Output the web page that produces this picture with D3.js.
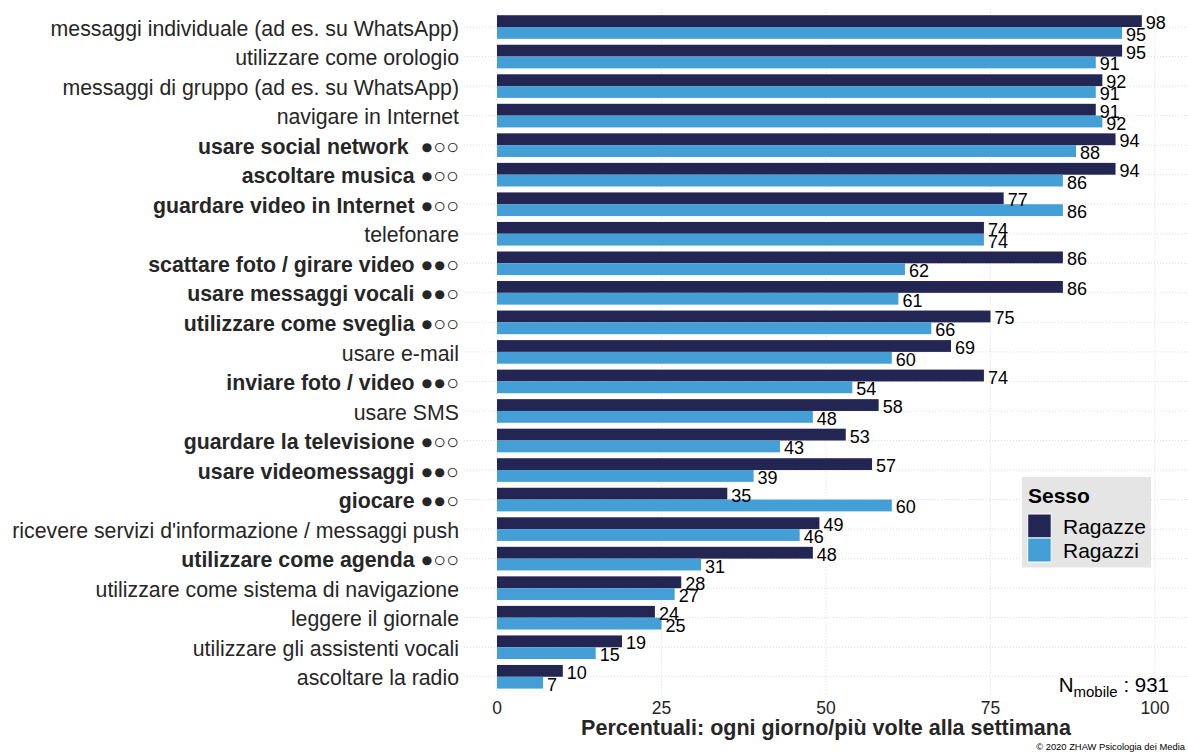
<!DOCTYPE html>
<html>
<head>
<meta charset="utf-8">
<script src="https://cdn.jsdelivr.net/npm/d3@7"></script>
<style>
  html, body { margin: 0; padding: 0; background: #fff; }
  svg { display: block; font-family: "Liberation Sans", Arial, sans-serif; }
</style>
</head>
<body>
<svg id="chart" width="1188" height="752"></svg>
<script>
// Activities with smartphone, top to bottom
const categories = [
  "messaggi individuale (ad es. su WhatsApp)",
  "utilizzare come orologio",
  "messaggi di gruppo (ad es. su WhatsApp)",
  "navigare in Internet",
  "usare social network  ●○○",
  "ascoltare musica ●○○",
  "guardare video in Internet ●○○",
  "telefonare",
  "scattare foto / girare video ●●○",
  "usare messaggi vocali ●●○",
  "utilizzare come sveglia ●○○",
  "usare e-mail",
  "inviare foto / video ●●○",
  "usare SMS",
  "guardare la televisione ●○○",
  "usare videomessaggi ●●○",
  "giocare ●●○",
  "ricevere servizi d'informazione / messaggi push",
  "utilizzare come agenda ●○○",
  "utilizzare come sistema di navigazione",
  "leggere il giornale",
  "utilizzare gli assistenti vocali",
  "ascoltare la radio"
];
// Categories with a significant gender difference (bold labels)
const significant = [false, false, false, false, true, true, true, false, true, true, true,
  false, true, false, true, true, true, false, true, false, false, false, false];
const ragazze = [98, 95, 92, 91, 94, 94, 77, 74, 86, 86, 75, 69, 74, 58, 53, 57, 35, 49, 48, 28, 24, 19, 10];
const ragazzi = [95, 91, 91, 92, 88, 86, 86, 74, 62, 61, 66, 60, 54, 48, 43, 39, 60, 46, 31, 27, 25, 15, 7];
const groups = ["Ragazze", "Ragazzi"];
const xTicks = [0, 25, 50, 75, 100];
const colors = ["#232553", "#459FD7"];

const svg = d3.select("#chart");
const panel = { left: 464.1, right: 1187.9, top: 9.3, bottom: 694.5 };

const x = d3.scaleLinear()
  .domain([-5, 105])
  .range([panel.left, panel.right]);

const y = d3.scaleBand()
  .domain(categories)
  .range([panel.top, panel.bottom])
  .paddingOuter(0.1)
  .paddingInner(0);

const inner = d3.scaleBand()
  .domain(groups)
  .range([y.bandwidth() * 0.1, y.bandwidth() * 0.9]);

const grid = svg.append("g").attr("class", "grid");
// vertical gridlines
grid.selectAll("line.v").data(xTicks).join("line")
  .attr("x1", d => x(d)).attr("x2", d => x(d))
  .attr("y1", panel.top).attr("y2", panel.bottom)
  .attr("stroke", "#d9d9d9").attr("stroke-width", 1).attr("stroke-dasharray", "1,2");
// horizontal gridlines
grid.selectAll("line.h").data(categories).join("line")
  .attr("x1", panel.left).attr("x2", panel.right)
  .attr("y1", d => y(d) + y.bandwidth() / 2).attr("y2", d => y(d) + y.bandwidth() / 2)
  .attr("stroke", "#d9d9d9").attr("stroke-width", 1).attr("stroke-dasharray", "1,2");

// flatten into bar records
const bars = [];
categories.forEach((c, i) => {
  bars.push({ cat: c, group: groups[0], value: ragazze[i], color: colors[0] });
  bars.push({ cat: c, group: groups[1], value: ragazzi[i], color: colors[1] });
});

svg.append("g").selectAll("rect").data(bars).join("rect")
  .attr("x", x(0))
  .attr("y", d => y(d.cat) + inner(d.group))
  .attr("width", d => x(d.value) - x(0))
  .attr("height", inner.bandwidth())
  .attr("fill", d => d.color);

// value labels
svg.append("g").selectAll("text").data(bars).join("text")
  .attr("x", d => x(d.value) + 4)
  .attr("y", d => y(d.cat) + inner(d.group) + inner.bandwidth() / 2 + 1.5)
  .attr("dy", "0.36em")
  .attr("font-size", 18)
  .attr("fill", "#000")
  .text(d => d.value);

// category labels
svg.append("g").selectAll("text").data(categories).join("text")
  .attr("x", 459)
  .attr("y", d => y(d) + y.bandwidth() / 2 + 1)
  .attr("dy", "0.36em")
  .attr("text-anchor", "end")
  .attr("font-size", 21.3)
  .attr("font-weight", (d, i) => significant[i] ? "bold" : "normal")
  .attr("fill", "#262626")
  .style("white-space", "pre")
  .text(d => d);

// x axis tick labels
svg.append("g").selectAll("text").data(xTicks).join("text")
  .attr("x", d => x(d))
  .attr("y", 714)
  .attr("text-anchor", "middle")
  .attr("font-size", 17.5)
  .attr("fill", "#262626")
  .text(d => d);

// x axis title
svg.append("text")
  .attr("x", (x(0) + x(100)) / 2)
  .attr("y", 735)
  .attr("text-anchor", "middle")
  .attr("font-size", 21.5)
  .attr("font-weight", "bold")
  .attr("fill", "#262626")
  .text("Percentuali: ogni giorno/più volte alla settimana");

// sample size annotation
const nText = svg.append("text")
  .attr("x", 1169)
  .attr("y", 692)
  .attr("text-anchor", "end")
  .attr("font-size", 20.5)
  .attr("fill", "#000");
nText.append("tspan").text("N");
nText.append("tspan").attr("font-size", 15).attr("dy", 5).text("mobile");
nText.append("tspan").attr("dy", -5).text(" : 931");

// copyright
svg.append("text")
  .attr("x", 1185)
  .attr("y", 750)
  .attr("text-anchor", "end")
  .attr("font-size", 9.4)
  .attr("fill", "#000")
  .text("© 2020 ZHAW Psicologia dei Media");

// legend
const legend = svg.append("g").attr("transform", "translate(1022,477)");
legend.append("rect").attr("width", 129).attr("height", 90.5).attr("fill", "#e5e5e5");
legend.append("text").attr("x", 6).attr("y", 26)
  .attr("font-size", 21).attr("font-weight", "bold").attr("fill", "#000").text("Sesso");
groups.forEach((g, i) => {
  legend.append("rect")
    .attr("x", 5.7).attr("y", 37 + i * 24)
    .attr("width", 23.5).attr("height", 24)
    .attr("fill", colors[i]).attr("stroke", "#fff").attr("stroke-width", 1);
  legend.append("text")
    .attr("x", 41).attr("y", 37 + i * 24 + 12)
    .attr("dy", "0.36em")
    .attr("font-size", 21).attr("fill", "#000").text(g);
});
</script>
</body>
</html>
